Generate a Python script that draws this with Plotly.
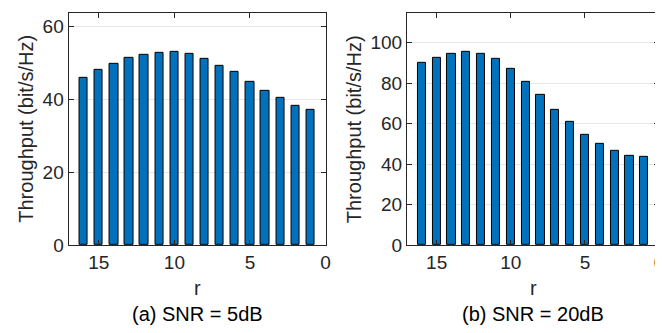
import plotly.graph_objects as go

r = list(range(16, 0, -1))
thr_5db = [46.0, 48.1, 49.8, 51.3, 52.1, 52.8, 53.1, 52.5, 51.2, 49.3, 47.4, 44.7, 42.4, 40.3, 38.2, 37.1]
thr_20db = [90.0, 92.8, 94.6, 95.7, 94.7, 92.2, 87.1, 80.9, 74.4, 66.9, 61.0, 54.5, 50.0, 46.8, 44.3, 43.8]
x_ticks = [0, 5, 10, 15]
y_ticks_a = [0, 20, 40, 60]
y_ticks_b = [0, 20, 40, 60, 80, 100]
captions = ["(a) SNR = 5dB", "(b) SNR = 20dB"]
ylabel = "Throughput (bit/s/Hz)"
xlabel = "r"

W, H = 663, 333
FONT = "Liberation Sans, Arial, Helvetica, sans-serif"
BAR = "#0072BD"
AX = "#262626"
TICK_FS = 19
LAB_FS = 20

fig = go.Figure()
fig.add_trace(go.Bar(x=r, y=thr_5db, width=0.55, marker=dict(color=BAR, line=dict(color="black", width=1)),
                     xaxis="x", yaxis="y", showlegend=False))
fig.add_trace(go.Bar(x=r, y=thr_20db, width=0.55, marker=dict(color=BAR, line=dict(color="black", width=1)),
                     xaxis="x2", yaxis="y2", showlegend=False))

def px_x(p):
    return p / W

def px_y(p):
    return 1 - p / H

common_x = dict(range=[17, 0], tickvals=x_ticks, ticks="inside", ticklen=5, tickcolor=AX,
                showline=True, linecolor=AX, linewidth=1, mirror="ticks", showgrid=False,
                zeroline=False, ticklabeloverflow="allow",
                tickfont=dict(size=TICK_FS, color=AX, family=FONT))
common_y = dict(ticks="inside", ticklen=5, tickcolor=AX, showline=True, linecolor=AX, linewidth=1,
                mirror="ticks", showgrid=True, gridcolor="#e6e6e6", gridwidth=1, zeroline=False,
                ticklabeloverflow="allow",
                tickfont=dict(size=TICK_FS, color=AX, family=FONT))

axA = (61, 320)
axB = (402, 656)
top, bot = 5, 245

fig.update_layout(
    width=W, height=H, margin=dict(l=0, r=0, t=0, b=0),
    plot_bgcolor="white", paper_bgcolor="white", bargap=0,
    font=dict(family=FONT, size=TICK_FS, color=AX),
    xaxis=dict(domain=[px_x(axA[0]), px_x(axA[1])], anchor="y", **common_x),
    yaxis=dict(domain=[px_y(bot), px_y(top)], anchor="x", range=[0, 1.2 * max(thr_5db)],
               tickvals=y_ticks_a, **common_y),
    xaxis2=dict(domain=[px_x(axB[0]), px_x(axB[1])], anchor="y2", **common_x),
    yaxis2=dict(domain=[px_y(bot), px_y(top)], anchor="x2", range=[0, 1.2 * max(thr_20db)],
                tickvals=y_ticks_b, **common_y),
)

ann = []
for (x0, x1), ylx, cap in [(axA, 18, captions[0]), (axB, 349, captions[1])]:
    cx = (x0 + x1) / 2
    ann.append(dict(x=px_x(ylx), y=px_y((top + bot) / 2), xref="paper", yref="paper", text=ylabel,
                    textangle=-90, showarrow=False, font=dict(size=LAB_FS, color=AX, family=FONT),
                    xanchor="center", yanchor="middle"))
    ann.append(dict(x=px_x(cx), y=px_y(290), xref="paper", yref="paper", text=xlabel,
                    showarrow=False, font=dict(size=LAB_FS, color=AX, family=FONT),
                    xanchor="center", yanchor="middle"))
    ann.append(dict(x=px_x(cx), y=px_y(316), xref="paper", yref="paper", text=cap,
                    showarrow=False, font=dict(size=LAB_FS, color="black", family=FONT),
                    xanchor="center", yanchor="middle"))
fig.update_layout(annotations=ann)

fig.write_html("out.html")
